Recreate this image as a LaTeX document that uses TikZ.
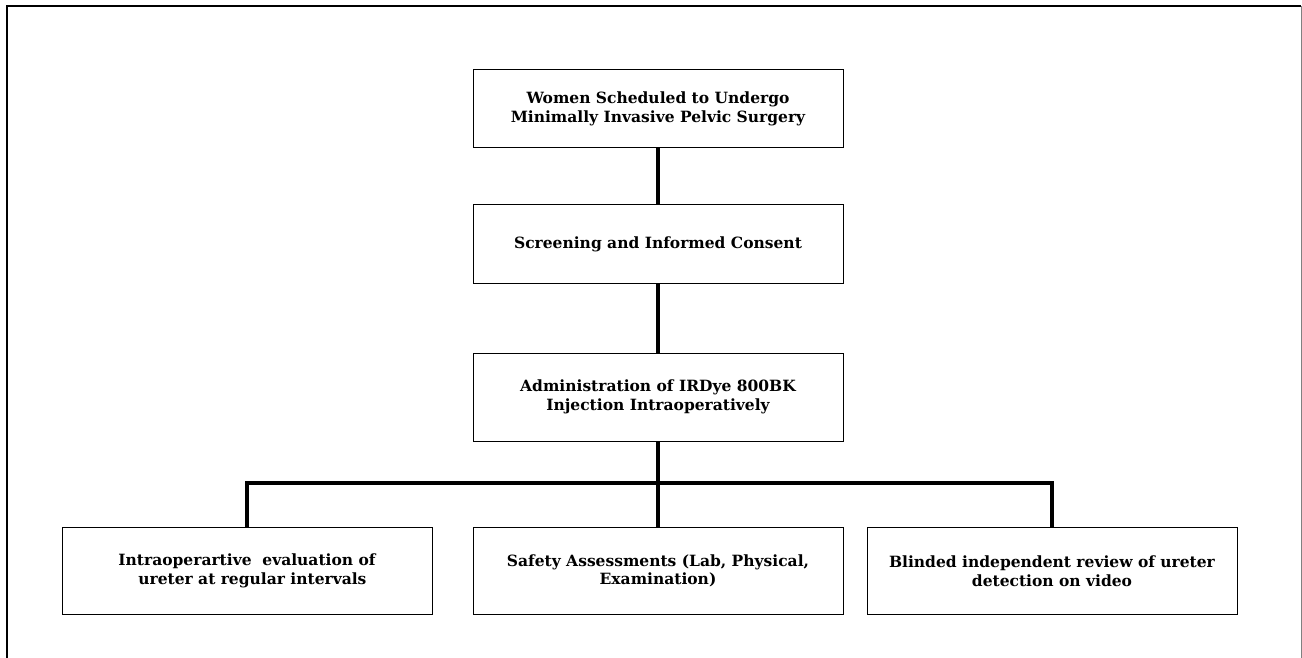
\documentclass[tikz,border=0pt]{standalone}
\usepackage{fontspec}
\setmainfont{DejaVu Serif}
\usetikzlibrary{positioning}
\tikzset{stagebox/.style={draw, line width=1pt, minimum width=370pt, minimum height=78pt, align=center, font=\bfseries\fontsize{15.5}{18.5}\selectfont},
    link/.style={line width=3.5pt}}

\begin{document}
\begin{tikzpicture}[x=1pt,y=-1pt]
    \useasboundingbox (0,0) rectangle (1302,658);
    \draw[line width=2pt] (7,660) -- (7,6.5) -- (1301,6.5);
    \draw[gray, line width=1pt] (1301,6.5) -- (1301,660);
    \node[stagebox] (women) at (658,109) {Women Scheduled to Undergo\\Minimally Invasive Pelvic Surgery};
    \node[stagebox] (consent) at (658,244) {Screening and Informed Consent};
    \node[stagebox, minimum height=88pt] (dye) at (658,397) {Administration of IRDye 800BK\\Injection Intraoperatively};
    \node[stagebox, minimum height=87pt] (ureter) at (247,571) {Intraoperartive~ evaluation of\\~~ureter at regular intervals};
    \node[stagebox, minimum height=87pt] (safety) at (658,571) {Safety Assessments (Lab, Physical,\\Examination)};
    \node[stagebox, minimum height=87pt] (review) at (1052,571) {Blinded independent review of ureter\\detection on video};
    \coordinate (bus) at (658,483);
    \draw[link] (women) -- (consent);
    \draw[link] (consent) -- (dye);
    \draw[link] (dye) -- (safety);
    \draw[link] (ureter.north) |- (bus) -| (review.north);
\end{tikzpicture}
\end{document}
